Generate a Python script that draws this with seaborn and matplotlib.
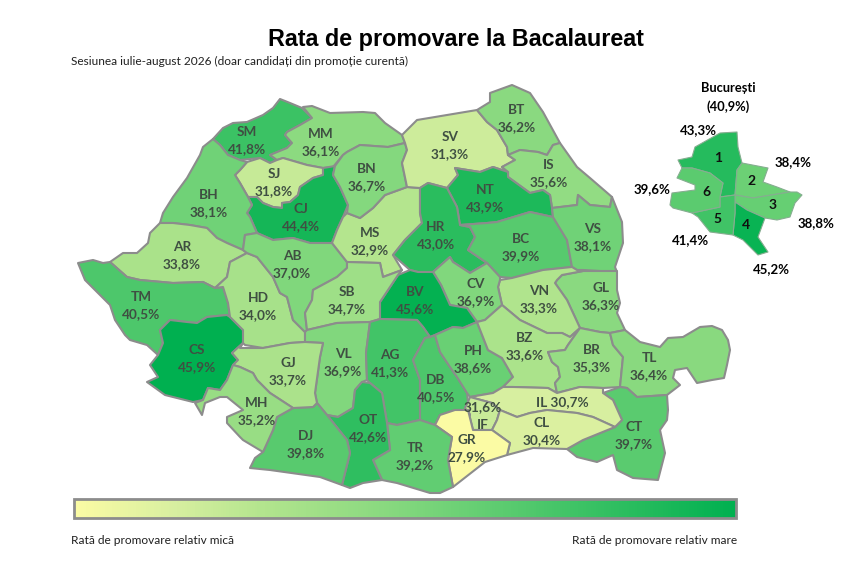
import numpy as np
import pandas as pd
import matplotlib
matplotlib.use("Agg")
import matplotlib.pyplot as plt
import seaborn as sns
from matplotlib.patches import Polygon, Rectangle
from matplotlib.colors import Normalize, LinearSegmentedColormap

# ---- data ----
counties = ["SM", "MM", "BT", "SV", "BN", "SJ", "IS", "BH", "CJ", "NT", "HR", "MS", "VS", "AR",
            "AB", "BC", "CV", "SB", "BV", "HD", "TM", "VN", "GL", "BZ", "BR", "CS", "PH", "VL",
            "AG", "GJ", "TL", "DB", "MH", "IL", "IF", "CL", "OT", "DJ", "CT", "TR", "GR"]
rates = [41.8, 36.1, 36.2, 31.3, 36.7, 31.8, 35.6, 38.1, 44.4, 43.9, 43.0, 32.9, 38.1, 33.8,
         37.0, 39.9, 36.9, 34.7, 45.6, 34.0, 40.5, 33.3, 36.3, 33.6, 35.3, 45.9, 38.6, 36.9,
         41.3, 33.7, 36.4, 40.5, 35.2, 30.7, 31.6, 30.4, 42.6, 39.8, 39.7, 39.2, 27.9]
sectors = ["1", "2", "3", "4", "5", "6"]
sector_rates = [43.3, 38.4, 38.8, 45.2, 41.4, 39.6]
bucuresti_rate = 40.9

# county outlines, traced in image pixels
outlines = {
    "SM": [(213,139),(223,128),(233,123),(247,122),(263,115),(273,108),(280,99),(290,103),(302,108),(312,118),(300,125),(287,132),(285,135),(292,143),(287,148),(270,155),(277,160),(270,163),(260,158),(240,160),(228,155),(220,145)],
    "MM": [(303,107),(312,106),(330,113),(363,112),(375,113),(385,123),(402,135),(405,143),(388,147),(360,145),(347,152),(343,155),(333,167),(323,168),(307,165),(283,158),(277,160),(270,155),(287,148),(292,143),(285,135),(287,132),(300,125),(312,118)],
    "SJ": [(235,175),(240,170),(247,162),(260,158),(270,163),(277,160),(283,158),(307,165),(323,168),(323,175),(313,178),(300,187),(298,195),(290,202),(282,203),(282,208),(273,207),(263,203),(257,197),(248,197),(240,183)],
    "CJ": [(323,168),(335,166),(333,175),(340,187),(348,205),(343,217),(337,230),(332,243),(310,243),(293,238),(273,240),(257,233),(250,217),(247,213),(252,205),(248,197),(257,197),(263,203),(273,207),(282,208),(282,203),(290,202),(298,195),(300,187),(313,178),(323,175)],
    "BH": [(213,139),(220,145),(228,155),(240,160),(247,162),(240,170),(235,175),(240,183),(248,197),(252,205),(247,213),(250,217),(257,233),(245,235),(243,250),(227,243),(217,238),(207,228),(190,225),(173,223),(160,223),(163,213),(173,197),(187,178),(200,155),(203,147)],
    "AR": [(160,223),(173,223),(190,225),(207,228),(217,238),(227,243),(243,250),(247,253),(230,262),(227,277),(215,288),(203,282),(173,283),(140,280),(127,277),(110,262),(123,253),(137,253),(148,243),(150,233)],
    "TM": [(78,263),(93,260),(103,263),(110,262),(127,277),(140,280),(173,283),(203,282),(215,288),(223,287),(228,303),(230,317),(227,315),(207,317),(197,323),(187,322),(170,320),(160,330),(163,343),(158,355),(147,345),(130,340),(125,335),(115,320),(110,305),(98,293),(85,280)],
    "CS": [(160,330),(170,320),(187,322),(197,323),(207,317),(227,315),(230,317),(243,330),(243,343),(232,353),(238,360),(233,365),(227,380),(220,390),(208,388),(203,400),(193,402),(165,395),(147,382),(158,377),(150,365),(158,355),(163,343)],
    "HD": [(230,262),(247,253),(257,257),(273,277),(280,293),(287,297),(293,320),(305,332),(305,342),(290,343),(263,348),(245,345),(243,343),(243,330),(230,317),(228,303),(223,287),(215,288),(227,277)],
    "AB": [(245,235),(257,233),(273,240),(293,238),(310,243),(332,243),(347,262),(347,268),(337,277),(313,290),(312,300),(305,313),(307,330),(305,332),(293,320),(287,297),(280,293),(273,277),(257,257),(247,253),(243,250)],
    "MS": [(347,213),(360,218),(373,208),(385,195),(407,187),(420,188),(420,213),(422,223),(405,240),(393,255),(402,270),(383,277),(380,263),(347,262),(332,243),(337,230),(343,217)],
    "BN": [(343,155),(347,152),(360,145),(388,147),(405,143),(407,150),(402,163),(407,187),(385,195),(373,208),(360,218),(347,213),(348,205),(340,187),(333,175),(335,166)],
    "SV": [(402,135),(405,132),(417,120),(477,110),(487,122),(497,130),(507,147),(508,155),(515,160),(502,167),(508,172),(493,167),(480,172),(455,168),(458,175),(447,188),(428,183),(420,188),(407,187),(402,163),(407,150),(405,143)],
    "BT": [(477,110),(490,102),(490,93),(512,85),(530,93),(543,112),(560,143),(553,145),(547,155),(538,152),(520,150),(508,155),(507,147),(497,130),(487,122)],
    "IS": [(508,155),(520,150),(538,152),(547,155),(553,145),(560,143),(577,167),(590,178),(612,197),(610,207),(590,205),(578,195),(577,205),(552,208),(550,195),(543,190),(530,193),(508,177),(508,172),(502,167),(515,160)],
    "NT": [(455,168),(480,172),(493,167),(508,172),(508,177),(530,193),(543,190),(550,195),(552,208),(553,217),(530,212),(497,222),(487,223),(460,225),(457,207),(447,188),(458,175)],
    "HR": [(420,188),(428,183),(447,188),(457,207),(460,225),(470,227),(475,237),(468,250),(487,263),(470,273),(453,262),(450,257),(433,272),(418,272),(410,270),(393,255),(405,240),(422,223),(420,213)],
    "BC": [(460,225),(487,223),(497,222),(530,212),(553,217),(567,240),(572,267),(543,270),(512,278),(500,277),(487,263),(468,250),(475,237),(470,227)],
    "VS": [(552,208),(577,205),(578,195),(590,205),(610,207),(612,197),(622,222),(623,243),(615,267),(617,272),(583,270),(577,270),(572,267),(567,240),(553,217)],
    "GL": [(557,280),(562,275),(583,271),(617,271),(617,290),(620,303),(617,313),(625,330),(610,333),(600,332),(580,328),(567,300),(555,283)],
    "VN": [(498,287),(500,280),(512,278),(543,270),(572,267),(577,270),(583,271),(562,275),(557,280),(555,283),(567,300),(580,328),(570,337),(562,333),(547,333),(520,320),(502,305)],
    "CV": [(450,257),(453,262),(470,273),(487,263),(500,277),(500,280),(498,287),(502,305),(494,312),(485,320),(477,322),(467,308),(450,305),(441,285),(433,272)],
    "BV": [(398,275),(410,270),(418,272),(433,272),(441,285),(450,305),(467,308),(477,322),(463,328),(453,327),(435,335),(430,337),(423,327),(417,320),(380,319),(380,302),(388,290)],
    "SB": [(347,262),(380,263),(383,277),(402,270),(398,275),(388,290),(380,302),(380,319),(370,322),(337,323),(307,330),(305,313),(312,300),(313,290),(337,277),(347,268)],
    "VL": [(305,332),(307,330),(337,323),(370,322),(366,353),(367,380),(362,382),(355,390),(353,408),(338,417),(327,415),(317,403),(315,393),(320,357),(323,343),(305,342)],
    "AG": [(370,322),(380,319),(417,320),(423,327),(430,337),(425,338),(413,360),(420,380),(420,420),(397,425),(387,423),(382,393),(370,383),(367,380),(366,353)],
    "DB": [(435,335),(440,352),(450,367),(457,377),(467,393),(468,402),(465,408),(470,415),(468,410),(455,410),(440,415),(435,425),(420,420),(420,380),(413,360),(425,338),(430,337)],
    "PH": [(435,335),(453,327),(463,328),(477,322),(488,350),(502,358),(513,377),(503,387),(493,393),(470,397),(467,393),(457,377),(450,367),(440,352)],
    "BZ": [(477,322),(485,320),(494,312),(502,305),(520,320),(547,333),(562,333),(570,337),(580,328),(568,345),(565,350),(548,352),(552,362),(558,367),(560,377),(555,383),(557,393),(548,388),(513,387),(503,387),(513,377),(502,358),(488,350)],
    "BR": [(580,328),(600,332),(610,333),(613,345),(623,357),(620,387),(603,388),(580,387),(557,393),(555,383),(560,377),(558,367),(552,362),(548,352),(565,350),(568,345)],
    "TL": [(610,333),(625,330),(640,342),(660,347),(668,338),(683,337),(700,327),(712,326),(722,330),(728,340),(730,350),(727,365),(724,378),(712,380),(697,383),(687,368),(675,370),(673,378),(680,385),(667,395),(637,397),(627,388),(620,387),(623,357),(613,345)],
    "CT": [(603,393),(620,387),(627,388),(637,397),(667,395),(668,410),(667,420),(660,430),(665,453),(658,480),(633,478),(617,470),(613,455),(597,462),(577,457),(567,449),(583,440),(615,427),(622,420),(613,400)],
    "IL": [(470,397),(493,393),(503,387),(513,387),(548,388),(557,393),(580,387),(603,388),(603,393),(613,400),(622,420),(615,427),(593,417),(577,413),(547,410),(530,413),(517,417),(500,410),(492,403)],
    "IF": [(470,397),(492,403),(500,410),(497,420),(492,430),(473,430),(468,410),(470,415),(465,408),(468,402)],
    "CL": [(500,410),(517,417),(530,413),(547,410),(577,413),(593,417),(615,427),(583,440),(567,449),(533,448),(507,455),(510,443),(492,430),(497,420)],
    "GR": [(435,425),(440,415),(455,410),(468,410),(473,430),(492,430),(510,443),(507,455),(485,462),(453,487),(448,460),(452,437)],
    "TR": [(387,423),(397,425),(420,420),(435,425),(452,437),(448,460),(453,487),(440,493),(430,493),(397,483),(382,480),(373,460),(390,450)],
    "OT": [(353,408),(355,390),(362,382),(370,383),(382,393),(387,423),(390,450),(373,460),(382,480),(363,483),(350,488),(342,485),(350,453),(347,440),(327,415),(338,417)],
    "DJ": [(327,415),(347,440),(350,453),(342,485),(320,477),(270,470),(250,468),(255,458),(263,452),(273,430),(277,417),(293,408),(313,407),(317,403)],
    "GJ": [(240,348),(263,348),(290,343),(305,342),(323,343),(320,357),(315,393),(317,403),(313,407),(293,408),(270,393),(257,380),(253,373),(240,367),(233,365),(238,360),(232,353),(243,343)],
    "MH": [(233,365),(240,367),(253,373),(257,380),(270,393),(293,408),(277,417),(273,430),(263,452),(243,440),(240,437),(227,423),(227,417),(243,410),(227,397),(220,397),(205,403),(202,415),(195,403),(203,400),(208,388),(220,390),(227,380)],
}
sector_outlines = {
    "1": [(678,160),(692,157),(695,147),(720,133),(737,132),(738,147),(742,163),(737,170),(735,195),(720,197),(723,183),(710,173),(692,168),(682,168)],
    "2": [(737,170),(742,163),(768,168),(763,182),(777,187),(790,192),(753,198),(735,195)],
    "3": [(735,195),(753,198),(790,192),(797,192),(802,195),(795,203),(790,217),(777,220),(765,218),(747,210),(735,202)],
    "4": [(735,202),(747,210),(765,218),(758,237),(768,252),(758,255),(743,240),(733,235),(735,213)],
    "5": [(720,197),(735,195),(735,202),(735,213),(733,235),(710,232),(698,217),(692,213),(720,207)],
    "6": [(677,178),(682,168),(692,168),(710,173),(723,183),(720,197),(720,207),(692,213),(673,208),(670,205),(672,193),(695,190),(695,185)],
}
label_pos = {
    "SM": (247,132), "MM": (321,134), "BT": (517,110), "SV": (450,137), "BN": (367,169), "SJ": (274,174),
    "IS": (549,165), "BH": (209,195), "CJ": (301,209), "NT": (485,190), "HR": (436,227), "MS": (370,233),
    "VS": (593,229), "AR": (182,247), "AB": (292,256), "BC": (521,239), "CV": (476,284), "SB": (347,292),
    "BV": (415,292), "HD": (258,298), "TM": (141,297), "VN": (539,291), "GL": (601,288), "BZ": (525,338),
    "BR": (592,350), "CS": (197,350), "PH": (473,351), "VL": (343,354), "AG": (390,355), "GJ": (288,363),
    "TL": (649,358), "DB": (436,380), "MH": (257,403), "CL": (542,423), "OT": (368,420), "DJ": (306,436),
    "CT": (634,427), "TR": (415,448), "GR": (467,440),
}
sector_pos = {"1": (718,158), "2": (752,181), "3": (773,205), "4": (746,225), "5": (717,219), "6": (706,192)}
sector_value_pos = {"1": (698,130), "2": (793,162), "3": (816,223), "4": (771,269), "5": (690,240), "6": (652,189)}

df = pd.DataFrame({"county": counties, "rate": rates}).set_index("county")
fmt = lambda v: f"{v:.1f}%".replace(".", ",")

# ---- style ----
sns.set_theme(style="white")
plt.rcParams["font.family"] = ["Lato", "DejaVu Sans"]
W, H = 851, 561
cmap = LinearSegmentedColormap.from_list("promovare", [(0, "#FBFBA4"), (0.15, "#D8EFA0"), (0.28, "#B4E58E"),
                                                       (0.5, "#82D77D"), (1, "#00B050")])
norm = Normalize(vmin=27.9, vmax=45.9)
edge = "#8C8C8C"
txt = "#3F4F42"
fs = 9.8

fig = plt.figure(figsize=(W / 100, H / 100), dpi=100, facecolor="white")
ax = fig.add_axes([0, 0, 1, 1])
ax.set_xlim(0, W)
ax.set_ylim(H, 0)
ax.axis("off")

# ---- map ----
for code, pts in outlines.items():
    ax.add_patch(Polygon(pts, closed=True, facecolor=cmap(norm(df.loc[code, "rate"])),
                         edgecolor=edge, linewidth=1.5, joinstyle="round"))
for s, r in zip(sectors, sector_rates):
    ax.add_patch(Polygon(sector_outlines[s], closed=True, facecolor=cmap(norm(r)),
                         edgecolor="#86AD90", linewidth=0.8, joinstyle="round"))

for code, (x, y) in label_pos.items():
    ax.text(x, y, code, ha="center", va="center", fontsize=fs, fontweight="bold", color=txt)
    ax.text(x, y + 17.5, fmt(df.loc[code, "rate"]), ha="center", va="center", fontsize=fs,
            fontweight="bold", color=txt)
# the two that don't follow the stacked layout
ax.text(562, 402, "IL " + fmt(df.loc["IL", "rate"]), ha="center", va="center", fontsize=fs, fontweight="bold", color=txt)
ax.text(483, 407, fmt(df.loc["IF", "rate"]), ha="center", va="center", fontsize=fs, fontweight="bold", color=txt)
ax.text(483, 425, "IF", ha="center", va="center", fontsize=fs, fontweight="bold", color=txt)

# ---- Bucuresti inset ----
ax.text(728, 88, "București", ha="center", va="center", fontsize=9.3, fontweight="bold", color="black")
ax.text(728, 107, f"({fmt(bucuresti_rate)})", ha="center", va="center", fontsize=9.3, fontweight="bold", color="black")
for s, r in zip(sectors, sector_rates):
    ax.text(*sector_pos[s], s, ha="center", va="center", fontsize=10, fontweight="bold", color="#101010")
    ax.text(*sector_value_pos[s], fmt(r), ha="center", va="center", fontsize=9.5, fontweight="bold", color="black")

# ---- titles ----
ax.text(456, 39, "Rata de promovare la Bacalaureat", ha="center", va="center", fontsize=16.8,
        fontweight="bold", family=["Liberation Sans", "DejaVu Sans"], color="black")
ax.text(71, 61, "Sesiunea iulie-august 2026 (doar candidați din promoție curentă)", ha="left", va="center",
        fontsize=8.6, color="#202020")

# ---- gradient legend ----
cax = fig.add_axes([73.5 / W, 1 - 518 / H, 662 / W, 19 / H])
strip = np.linspace(norm.vmin, norm.vmax, 256).reshape(1, -1)
sns.heatmap(strip, ax=cax, cmap=cmap, norm=norm, cbar=False, xticklabels=False, yticklabels=False)
cax.add_patch(Rectangle((0, 0), 1, 1, transform=cax.transAxes, fill=False, edgecolor=edge, linewidth=2, clip_on=False))
ax.text(71, 540, "Rată de promovare relativ mică", ha="left", va="center", fontsize=8.6, color="#202020")
ax.text(737, 540, "Rată de promovare relativ mare", ha="right", va="center", fontsize=8.6, color="#202020")

fig.savefig("out.png", dpi=100, facecolor="white")
